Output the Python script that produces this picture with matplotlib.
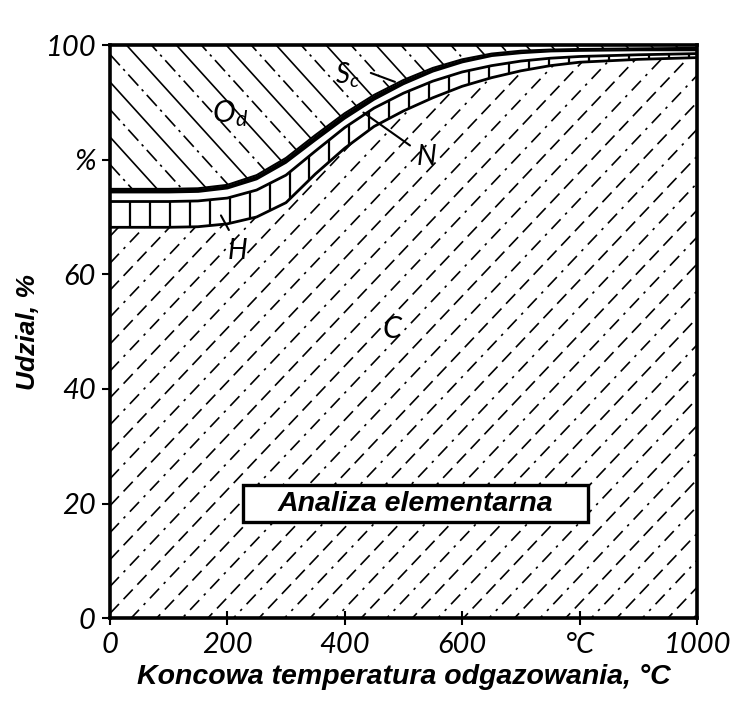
import numpy as np
import matplotlib
matplotlib.use("Agg")
import matplotlib.pyplot as plt
from matplotlib.patches import Polygon, Rectangle

# ---------------- data ----------------
temperature = [0, 50, 100, 150, 200, 250, 300, 350, 400, 450, 500, 550, 600, 650, 700, 750, 800, 900, 1000]
share_C = [68.2, 68.2, 68.2, 68.3, 68.8, 70.0, 72.5, 77.5, 82.0, 85.8, 88.5, 90.8, 92.8, 94.3, 95.5, 96.4, 97.0, 97.5, 97.8]
share_H = [4.5, 4.5, 4.5, 4.5, 4.5, 4.7, 4.8, 4.0, 3.6, 3.2, 3.1, 2.9, 2.5, 2.1, 1.7, 1.3, 1.0, 0.8, 0.7]
share_N = [1.5, 1.5, 1.5, 1.5, 1.6, 1.8, 2.1, 1.8, 1.5, 1.4, 1.5, 1.6, 1.6, 1.6, 1.3, 1.1, 0.9, 0.7, 0.5]
share_S = [0.7, 0.7, 0.7, 0.7, 0.7, 0.8, 0.9, 1.0, 1.0, 0.9, 0.8, 0.7, 0.6, 0.5, 0.5, 0.4, 0.4, 0.4, 0.5]
# O_d is the remainder up to 100 %

x_ticks = [0, 200, 400, 600, 800, 1000]
x_ticklabels = ["0", "200", "400", "600", "°C", "1000"]
y_ticks = [0, 20, 40, 60, 80, 100]
y_ticklabels = ["0", "20", "40", "60", "%", "100"]

# ---------------- derived boundaries ----------------
T = np.array(temperature, float)
c_top = np.array(share_C)
h_top = c_top + np.array(share_H)
n_top = h_top + np.array(share_N)
s_top = n_top + np.array(share_S)
top = np.full_like(T, 100.0)

fig = plt.figure(figsize=(7.52, 7.09), dpi=100)
ax = fig.add_axes([0.146, 0.128, 0.781, 0.8085])
ax.set_xlim(0, 1000)
ax.set_ylim(0, 100)


def band_polygon(lower, upper):
    pts = np.vstack([np.column_stack([T, lower]), np.column_stack([T[::-1], upper[::-1]])])
    p = Polygon(pts, closed=True, facecolor="white", edgecolor="none", transform=ax.transData)
    ax.add_patch(p)
    return p


def hatch(poly, slope, spacing, styles, lw=1.1):
    # decorative hatch lines in axes fraction, clipped to the band
    offs = np.arange(-3, 3, spacing)
    xs = np.array([0.0, 1.0])
    for i, b in enumerate(offs):
        ln, = ax.plot(xs, slope * xs + b, transform=ax.transAxes, color="black",
                      lw=lw, linestyle=styles[i % len(styles)], zorder=2)
        ln.set_clip_path(poly)


pC = band_polygon(np.zeros_like(T), c_top)
pH = band_polygon(c_top, h_top)
pN = band_polygon(h_top, n_top)
pO = band_polygon(s_top, top)
ax.fill_between(T, n_top, s_top, color="black", lw=0, zorder=3)

hatch(pC, 1.08, 0.047, [(0, (8, 4)), (0, (8, 4, 1.5, 4))], lw=1.2)
hatch(pO, -1.13, 0.048, ["-", (0, (9, 3, 1.5, 3))], lw=1.2)
# vertical lines of the H band
for xv in np.arange(0.0, 1.0, 0.034):
    ln, = ax.plot([xv, xv], [0, 1], transform=ax.transAxes, color="black", lw=1.6, zorder=2)
    ln.set_clip_path(pH)

ax.plot(T, c_top, color="black", lw=2.0, zorder=4)
ax.plot(T, h_top, color="black", lw=2.0, zorder=4)
ax.plot(T, s_top, color="black", lw=1.5, zorder=4)

for s in ax.spines.values():
    s.set_linewidth(2.6)
    s.set_zorder(5)

tick_font = dict(family=["Lato", "DejaVu Sans"], size=21, weight="normal", style="italic")
ax.set_xticks(x_ticks)
ax.set_xticklabels(x_ticklabels, **tick_font)
ax.set_yticks(y_ticks)
ax.set_yticklabels(y_ticklabels, **tick_font)
ax.tick_params(axis="x", direction="inout", length=10, width=1.5, pad=5)
ax.tick_params(axis="y", direction="out", length=6, width=1.5, pad=4)

ax.set_xlabel("Koncowa temperatura odgazowania, °C", labelpad=4,
              family=["Liberation Sans", "DejaVu Sans"], size=20.5, weight="bold", style="italic")
ax.set_ylabel("Udzial, %", family=["Liberation Sans", "DejaVu Sans"], size=19,
              weight="bold", style="italic")
ax.yaxis.set_label_coords(-0.118, 0.50)

hand = dict(family=["Lato", "DejaVu Sans"], weight="normal", style="italic", color="black", zorder=6)
ax.text(205, 88, r"$\mathregular{O_d}$", fontsize=22, ha="center", va="center", **hand)
ax.text(405, 94.8, r"$\mathregular{S_c}$", fontsize=20, ha="center", va="center", **hand)
ax.text(540, 80.5, "N", fontsize=20, ha="center", va="center", **hand)
ax.text(218, 64.0, "H", fontsize=20, ha="center", va="center", **hand)
ax.text(480, 50.5, "C", fontsize=22, ha="center", va="center", **hand)

ax.annotate("", xy=(490, 93.4), xytext=(440, 95.3),
            arrowprops=dict(arrowstyle="-", color="black", lw=1.5), zorder=6)
ax.annotate("", xy=(428, 88.5), xytext=(515, 82.2),
            arrowprops=dict(arrowstyle="-", color="black", lw=1.5), zorder=6)
ax.annotate("", xy=(187, 70.7), xytext=(205, 67.3),
            arrowprops=dict(arrowstyle="-", color="black", lw=1.5), zorder=6)

# label box
ax.add_patch(Rectangle((227, 16.8), 587, 6.4, facecolor="white", edgecolor="black",
                       lw=2.4, zorder=7))
ax.text(520, 20, "Analiza elementarna", fontsize=20.5, ha="center", va="center",
        family=["Liberation Sans", "DejaVu Sans"], weight="bold", style="italic", zorder=8)

fig.savefig("out.png", dpi=100)
